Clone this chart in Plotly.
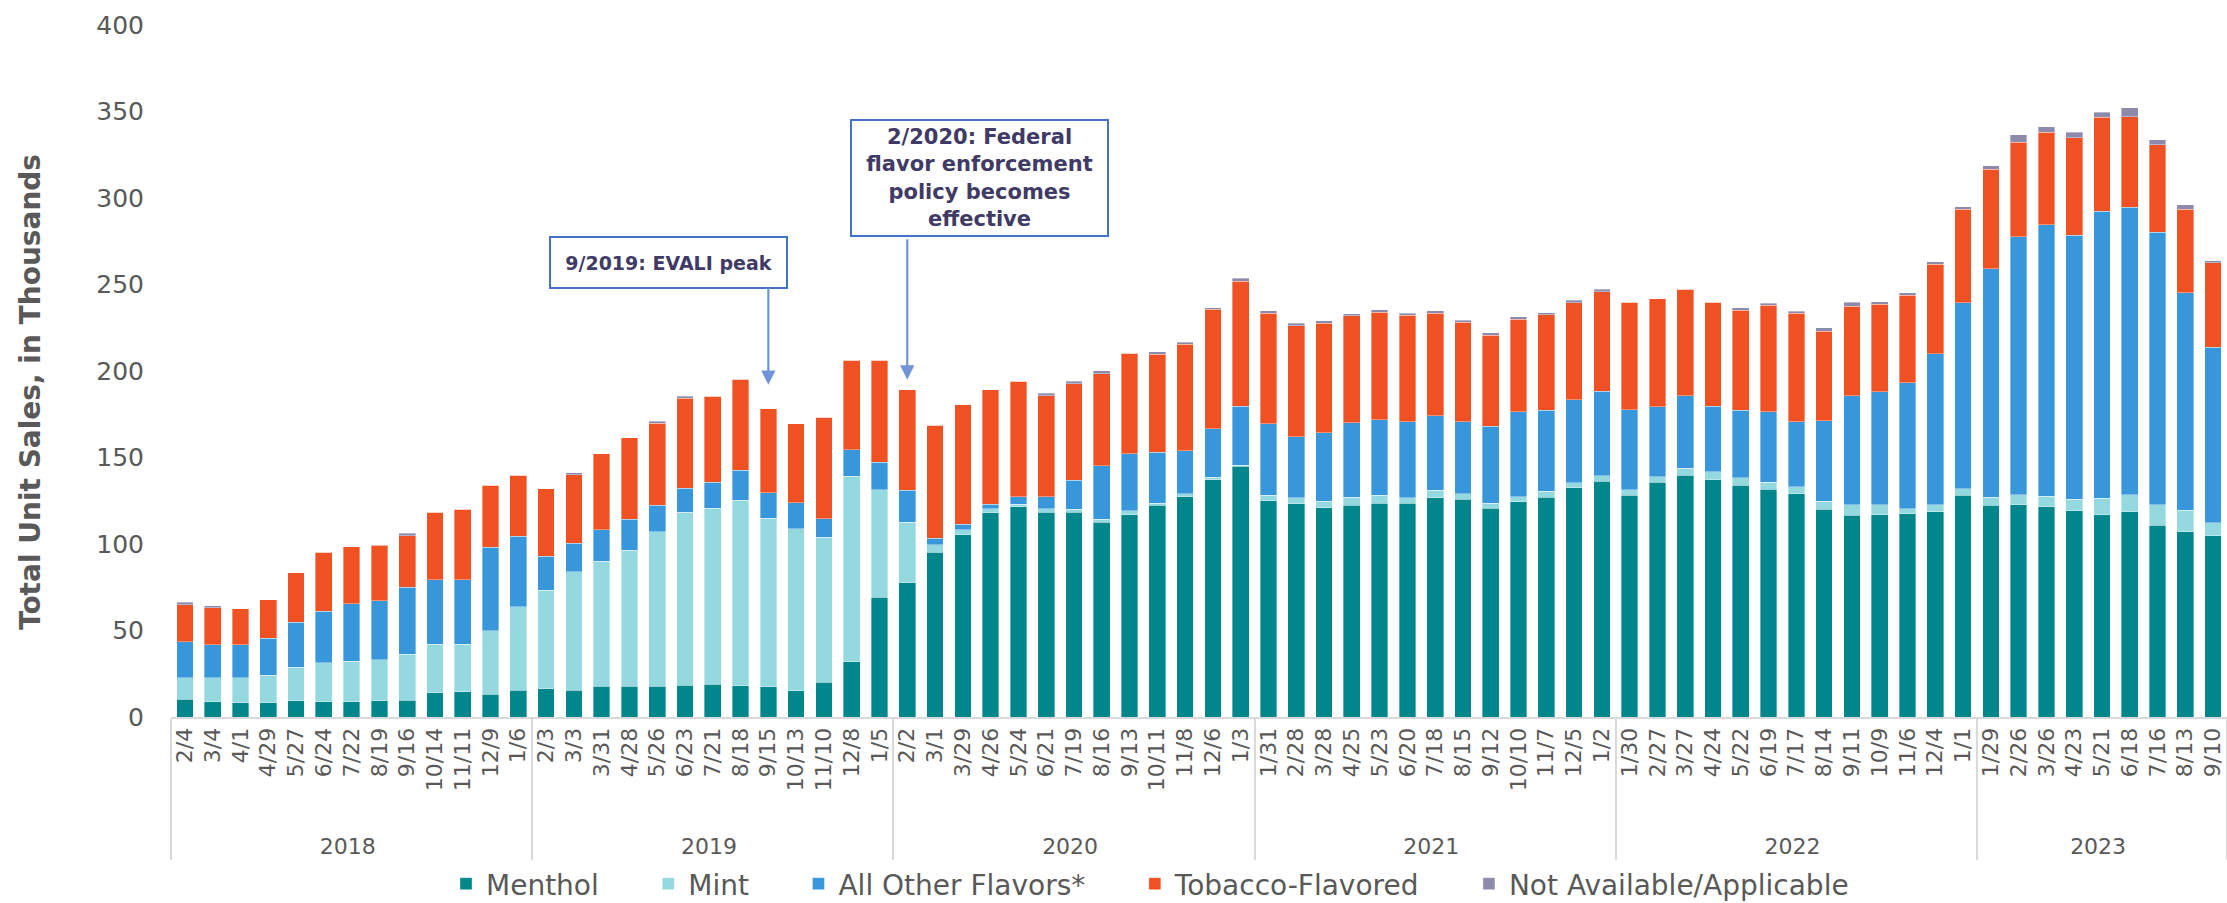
import plotly.graph_objects as go

years = (["2018"] * 13 + ["2019"] * 13 + ["2020"] * 13 + ["2021"] * 13 +
         ["2022"] * 13 + ["2023"] * 9)
periods = [
    "2/4", "3/4", "4/1", "4/29", "5/27", "6/24", "7/22", "8/19", "9/16", "10/14", "11/11", "12/9", "1/6",
    "2/3", "3/3", "3/31", "4/28", "5/26", "6/23", "7/21", "8/18", "9/15", "10/13", "11/10", "12/8", "1/5",
    "2/2", "3/1", "3/29", "4/26", "5/24", "6/21", "7/19", "8/16", "9/13", "10/11", "11/8", "12/6", "1/3",
    "1/31", "2/28", "3/28", "4/25", "5/23", "6/20", "7/18", "8/15", "9/12", "10/10", "11/7", "12/5", "1/2",
    "1/30", "2/27", "3/27", "4/24", "5/22", "6/19", "7/17", "8/14", "9/11", "10/9", "11/6", "12/4", "1/1",
    "1/29", "2/26", "3/26", "4/23", "5/21", "6/18", "7/16", "8/13", "9/10",
]

menthol = [
    10.4, 8.7, 8.1, 8.1, 9.3, 8.7, 8.7, 9.3, 9.6, 13.9, 14.7, 13.1, 15.6,
    16.4, 15.6, 17.8, 17.8, 17.8, 18.5, 18.9, 18.1, 17.4, 15.2, 20.1, 31.8, 69.1,
    77.6, 95.1, 105.3, 118.1, 121.4, 118.5, 118.5, 112.7, 116.9, 122.3, 127.3, 137.0, 144.9,
    125.0, 123.3, 121.0, 122.5, 123.7, 123.7, 126.6, 125.8, 120.6, 124.3, 127.1, 132.4, 136.4,
    128.1, 135.6, 139.7, 137.2, 133.9, 131.6, 129.1, 120.2, 116.5, 116.9, 117.5, 118.7, 128.1,
    122.3, 122.6, 121.4, 119.1, 117.0, 118.6, 110.7, 107.0, 104.7,
]
mint = [
    12.2, 13.9, 14.5, 16.0, 19.4, 22.7, 23.5, 23.7, 26.7, 28.2, 27.4, 36.9, 48.1,
    56.9, 68.5, 72.1, 78.5, 89.3, 99.8, 101.9, 107.3, 97.4, 93.6, 83.9, 107.3, 62.3,
    35.1, 4.5, 2.9, 2.3, 1.7, 1.9, 1.5, 1.5, 2.3, 1.4, 1.8, 1.5, 0.6,
    3.3, 3.5, 3.8, 4.6, 4.6, 3.1, 4.6, 3.3, 2.9, 3.0, 3.3, 3.1, 3.1,
    3.3, 3.3, 4.0, 4.6, 4.4, 4.2, 4.0, 4.6, 6.2, 5.8, 2.9, 4.0, 3.9,
    4.7, 6.0, 6.3, 6.9, 9.5, 10.0, 12.1, 12.5, 7.6,
]
other_flavors = [
    20.8, 19.3, 19.3, 21.4, 26.1, 29.6, 33.4, 34.3, 38.8, 37.2, 37.2, 48.0, 40.7,
    19.5, 16.4, 18.3, 17.9, 15.4, 13.9, 14.8, 17.2, 14.9, 15.1, 10.6, 15.3, 16.0,
    18.5, 3.8, 3.1, 2.5, 4.2, 6.9, 16.8, 30.9, 33.0, 29.3, 24.9, 28.0, 34.1,
    41.1, 35.3, 39.4, 43.1, 43.6, 44.0, 43.0, 41.7, 44.5, 49.2, 46.9, 47.8, 48.8,
    46.1, 40.5, 42.1, 37.8, 39.0, 40.7, 37.5, 46.5, 62.9, 65.2, 72.7, 87.4, 107.4,
    132.1, 149.1, 156.7, 152.6, 165.8, 166.1, 157.4, 125.8, 101.4,
]
tobacco = [
    21.4, 21.2, 20.8, 22.4, 28.7, 34.3, 32.8, 31.9, 29.7, 39.2, 40.7, 36.1, 35.3,
    39.0, 39.6, 44.0, 47.3, 47.3, 52.1, 49.8, 52.5, 48.4, 45.7, 58.7, 51.9, 58.9,
    58.1, 65.2, 69.1, 66.4, 66.8, 58.5, 55.9, 53.4, 58.1, 56.7, 61.5, 69.1, 72.4,
    63.9, 64.2, 63.5, 61.7, 62.1, 61.3, 59.3, 57.3, 52.7, 53.5, 55.2, 56.1, 57.5,
    62.3, 62.4, 61.4, 60.2, 57.9, 61.4, 62.7, 51.7, 51.9, 50.6, 50.6, 51.5, 54.1,
    57.6, 54.6, 53.7, 56.1, 54.4, 52.3, 50.5, 48.2, 48.9,
]
not_available = [
    1.4, 1.3, 0.0, 0.0, 0.0, 0.0, 0.0, 0.5, 1.3, 0.0, 0.0, 0.0, 0.0,
    0.0, 1.1, 0.0, 0.0, 1.1, 1.1, 0.0, 0.0, 0.0, 0.0, 0.0, 0.0, 0.0,
    0.0, 0.0, 0.0, 0.0, 0.0, 1.4, 1.4, 1.6, 0.0, 1.4, 1.2, 1.1, 1.7,
    1.5, 1.2, 1.3, 1.2, 1.4, 1.2, 1.3, 1.3, 1.4, 1.3, 1.3, 1.4, 1.4,
    0.0, 0.0, 0.0, 0.0, 1.3, 1.3, 1.3, 2.0, 2.1, 1.5, 1.5, 1.6, 1.5,
    1.9, 4.2, 3.1, 3.4, 2.8, 5.1, 3.0, 2.5, 1.1,
]

series_names = ["Menthol", "Mint", "All Other Flavors*", "Tobacco-Flavored", "Not Available/Applicable"]
series_values = [menthol, mint, other_flavors, tobacco, not_available]
series_colors = ["#00868B", "#93D9DF", "#3897DA", "#F05123", "#8E8AAC"]

# leading no-break spaces lengthen the rotated labels downward so the year row sits lower
NB = "\u00a0"
period_display = [NB * 3 + p for p in periods]
x = [years, period_display]

fig = go.Figure()
for i, (name, vals, color) in enumerate(zip(series_names, series_values, series_colors)):
    legend_name = name if i == len(series_names) - 1 else name + NB * 5
    fig.add_trace(go.Bar(
        x=x, y=vals, name=legend_name,
        marker=dict(color=color, line=dict(color="rgba(255,255,255,0.45)", width=0.8)),
    ))

FONT = "DejaVu Sans, Verdana, sans-serif"
GRAY = "#595959"
ANN = "#3F3A66"
BLUE = "#4472C4"

W, H = 2227, 903
L, R, T, B = 171, 0, 25, 186
PW = W - L - R
PH = H - T - B

fig.update_layout(
    barmode="stack",
    bargap=0.4,
    width=W, height=H,
    margin=dict(l=L, r=R, t=T, b=B, autoexpand=False),
    plot_bgcolor="white", paper_bgcolor="white",
    font=dict(family=FONT, color=GRAY),
    showlegend=True,
    legend=dict(orientation="h", x=(1150 - L) / PW, xanchor="center",
                yref="container", y=(H - 884) / H, yanchor="middle",
                font=dict(size=28, color=GRAY), traceorder="normal",
                bgcolor="rgba(0,0,0,0)"),
)
fig.update_xaxes(
    type="multicategory",
    tickangle=-90,
    tickfont=dict(size=22, color=GRAY),
    showline=True, linecolor="#D9D9D9", linewidth=2,
    showgrid=False, ticks="",
    showdividers=True, dividercolor="#D9D9D9", dividerwidth=2,
    automargin=False,
)
fig.update_yaxes(
    range=[0, 400], tickvals=[0, 50, 100, 150, 200, 250, 300, 350, 400],
    showgrid=False, zeroline=False, showline=False,
    tickfont=dict(size=25, color=GRAY),
    ticklabelstandoff=26,
    automargin=False,
)

# y-axis title
fig.add_annotation(
    xref="paper", yref="paper", x=(30 - L) / PW, y=(H - B - 392) / PH,
    xanchor="center", yanchor="middle", textangle=-90,
    text="<b>Total Unit Sales, in Thousands</b>", showarrow=False,
    font=dict(size=28, color=GRAY, family=FONT),
)

# Text boxes
fig.add_annotation(
    xref="paper", yref="y", x=(668 - L) / PW, y=263, xanchor="center", yanchor="middle",
    text="<b>9/2019: EVALI peak</b>",
    showarrow=False, font=dict(size=19, color=ANN, family=FONT),
    bordercolor=BLUE, borderwidth=2, borderpad=3, bgcolor="white",
    width=229, height=43, align="center",
)
fig.add_annotation(
    xref="paper", yref="y", x=(979 - L) / PW, y=311.6, xanchor="center", yanchor="middle",
    text="<b>2/2020: Federal<br>flavor enforcement<br>policy becomes<br>effective</b>",
    showarrow=False, font=dict(size=21, color=ANN, family=FONT),
    bordercolor=BLUE, borderwidth=2, borderpad=3, bgcolor="white",
    width=249, height=108, align="center",
)
# Arrows (index positions on the category axis)
evali_idx = 21   # 2019 / 9/15
policy_idx = 26  # 2020 / 2/2
fig.add_annotation(
    xref="x", yref="y", x=evali_idx, y=192, text="",
    showarrow=True, ax=0, ay=-98, arrowhead=2, arrowsize=1.3, arrowwidth=2.2,
    arrowcolor="#6F95D8", standoff=0, startstandoff=0,
)
fig.add_annotation(
    xref="x", yref="y", x=policy_idx, y=195, text="",
    showarrow=True, ax=0, ay=-142, arrowhead=2, arrowsize=1.3, arrowwidth=2.2,
    arrowcolor="#6F95D8", standoff=0, startstandoff=0,
)

fig.write_html(
    "out.html",
    config={"displayModeBar": False},
    post_script="document.body.style.margin='0';document.body.style.padding='0';"
                "document.body.style.overflow='hidden';",
)
